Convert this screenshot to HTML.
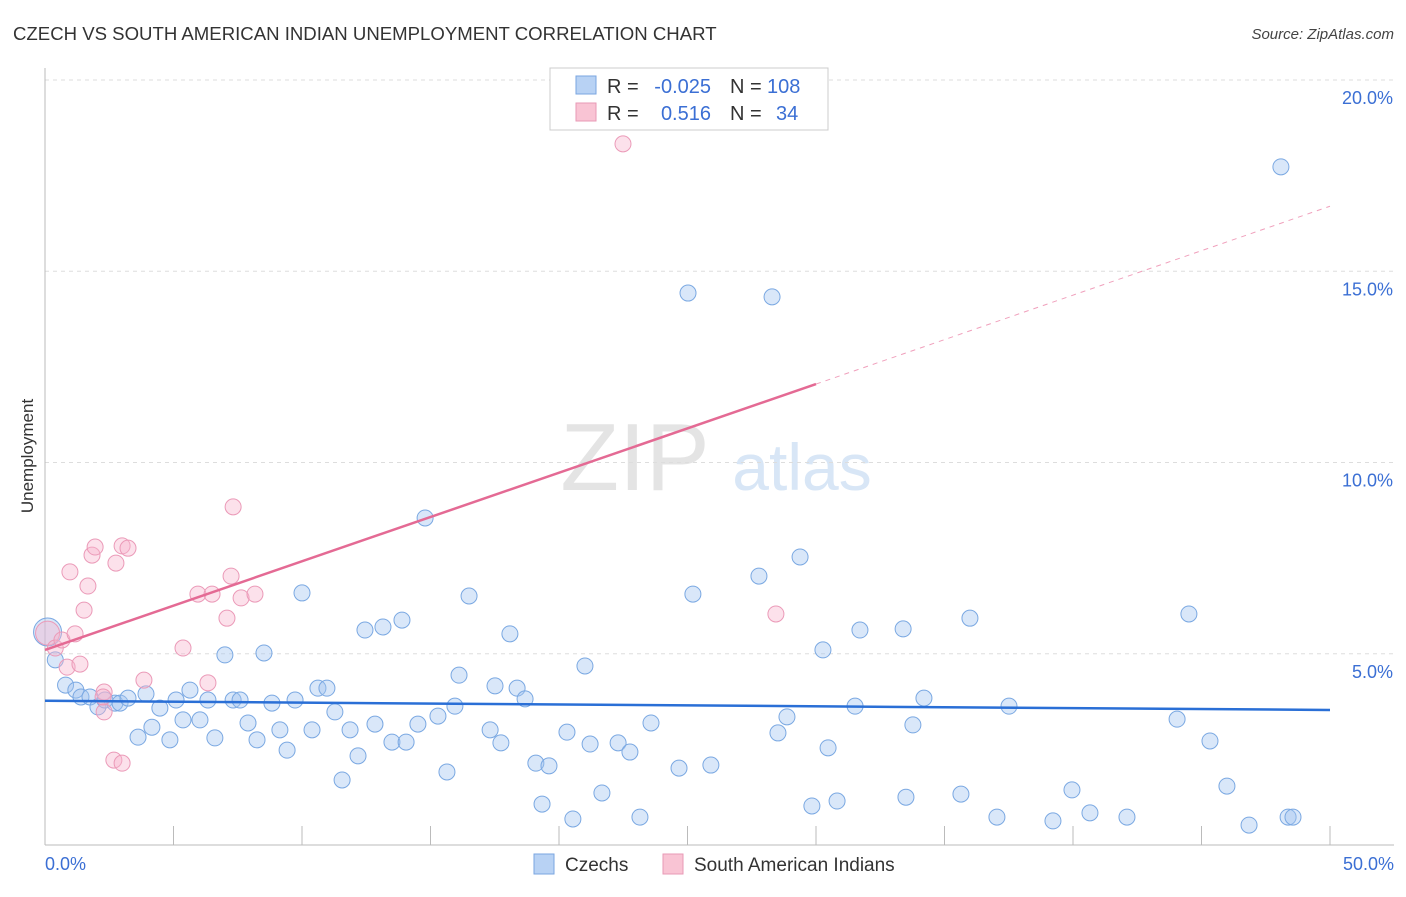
<!DOCTYPE html>
<html><head><meta charset="utf-8"><style>
body{margin:0;background:#fff;font-family:"Liberation Sans",sans-serif;}
svg text{font-family:"Liberation Sans",sans-serif;}
</style></head><body>
<svg id="chart" width="1406" height="892" viewBox="0 0 1406 892">
<text x="13" y="40" font-size="18.6" fill="#333">CZECH VS SOUTH AMERICAN INDIAN UNEMPLOYMENT CORRELATION CHART</text>
<text x="1394" y="39" font-size="15" fill="#444" text-anchor="end" font-style="italic">Source: ZipAtlas.com</text>
<text transform="translate(33,456) rotate(-90)" font-size="17" fill="#333" text-anchor="middle">Unemployment</text>
<g>
<text x="635" y="490" font-size="96" fill="#e4e4e4" font-family="Liberation Serif" text-anchor="middle">ZIP</text>
<text x="802" y="490" font-size="66" fill="#d8e6f6" text-anchor="middle">atlas</text>
</g>
<g id="grid"></g><g id="axes"></g><g id="marks"></g>
<g>
<rect x="550" y="68" width="278" height="62" fill="#fff" stroke="#ccc"/>
<rect x="576" y="76" width="20" height="18" fill="#b8d2f4" stroke="#7aa6e0"/>
<rect x="576" y="103" width="20" height="18" fill="#f9c4d4" stroke="#e89ab6"/>
<text x="607" y="93" font-size="20" fill="#333">R =</text>
<text x="711" y="93" font-size="20" fill="#3b6fd4" text-anchor="end">-0.025</text>
<text x="730" y="93" font-size="20" fill="#333">N =</text>
<text x="767" y="93" font-size="20" fill="#3b6fd4">108</text>
<text x="607" y="120" font-size="20" fill="#333">R =</text>
<text x="711" y="120" font-size="20" fill="#3b6fd4" text-anchor="end">0.516</text>
<text x="730" y="120" font-size="20" fill="#333">N =</text>
<text x="776" y="120" font-size="20" fill="#3b6fd4">34</text>
</g>
<g>
<rect x="534" y="854" width="20" height="20" fill="#b8d2f4" stroke="#7aa6e0"/>
<text x="565" y="871" font-size="19" fill="#333">Czechs</text>
<rect x="663" y="854" width="20" height="20" fill="#f9c4d4" stroke="#e89ab6"/>
<text x="694" y="871" font-size="19" fill="#333">South American Indians</text>
</g>
</svg>
<script>
const yTicks=[5,10,15,20];
const yTickLabels=["5.0%","10.0%","15.0%","20.0%"];
const czechX=[0.1,0.4,0.8,1.2,1.4,1.75,2.06,2.33,2.72,2.92,3.23,3.62,3.93,4.16,4.47,4.86,5.1,5.37,5.64,6.03,6.34,6.61,7.0,7.32,7.59,7.9,8.25,8.52,8.83,9.14,9.42,9.73,10.0,10.39,10.62,10.97,11.28,11.56,11.87,12.18,12.45,12.84,13.15,13.5,13.89,14.05,14.51,14.79,15.29,15.64,15.95,16.11,16.5,17.32,17.51,17.74,18.09,18.37,18.68,19.1,19.34,19.61,20.31,20.54,21.01,21.21,21.67,22.3,22.76,23.15,23.58,24.67,25.02,25.21,25.91,27.78,28.29,28.52,28.87,29.38,29.84,30.27,30.47,30.82,31.52,31.71,33.39,33.5,33.77,34.2,35.64,35.99,37.04,37.51,39.22,39.96,40.66,42.1,44.05,44.51,45.33,45.99,46.85,48.09,48.37,48.56];
const czechY=[5.57,4.84,4.18,4.05,3.87,3.87,3.61,3.79,3.71,3.71,3.84,2.82,3.95,3.08,3.58,2.75,3.79,3.27,4.05,3.27,3.79,2.8,4.97,3.79,3.79,3.19,2.75,5.02,3.71,3.01,2.48,3.79,6.59,3.01,4.1,4.1,3.48,1.7,3.01,2.33,5.62,3.16,5.7,2.69,5.88,2.69,3.16,8.55,3.37,1.91,3.63,4.44,6.51,3.01,4.16,2.67,5.52,4.1,3.82,2.14,1.07,2.07,2.95,0.68,4.68,2.64,1.36,2.67,2.43,0.73,3.19,2.01,14.43,6.56,2.09,7.03,14.33,2.93,3.35,7.53,1.02,5.1,2.54,1.15,3.63,5.62,5.65,1.25,3.14,3.84,1.33,5.93,0.73,3.63,0.63,1.44,0.84,0.73,3.29,6.04,2.72,1.54,0.52,17.73,0.73,0.73];
const sainX=[0.1,0.4,0.66,0.86,0.97,1.17,1.36,1.52,1.67,1.83,1.95,2.3,2.3,2.26,2.68,2.76,3.0,3.0,3.23,3.85,5.37,5.95,6.34,6.5,7.08,7.24,7.32,7.63,8.17,22.49,28.44];
const sainY=[5.54,5.15,5.36,4.65,7.14,5.52,4.73,6.14,6.77,7.58,7.79,4.0,3.48,3.87,2.22,7.37,7.82,2.14,7.76,4.31,5.15,6.56,4.24,6.56,5.93,7.03,8.84,6.46,6.56,18.33,6.04];
const czechTrend=[3.77,3.53];
const sainTrend=[5.1,12.05,16.7];
const X0=45,X1=1330,Y0=845,pxPerY=38.25;
const sx=v=>X0+(X1-X0)*v/50, sy=v=>Y0-v*pxPerY;
const NS="http://www.w3.org/2000/svg";
function mk(parent,tag,attrs){const e=document.createElementNS(NS,tag);for(const k in attrs)e.setAttribute(k,attrs[k]);parent.appendChild(e);return e;}
const grid=document.getElementById('grid'),axes=document.getElementById('axes'),marks=document.getElementById('marks');
yTicks.forEach((t,i)=>{
 const l=mk(grid,'line',{x1:X0,x2:1394,y1:sy(t),y2:sy(t),stroke:'#ddd','stroke-dasharray':'4,4'});
 
 
 const tx=mk(axes,'text',{x:1393,y:sy(t)+24,'font-size':18,fill:'#3b6fd4','text-anchor':'end'});
 tx.textContent=yTickLabels[i];
 
 
});
let a=mk(axes,'line',{x1:X0,x2:X0,y1:68,y2:Y0,stroke:'#bbb'});


a=mk(axes,'line',{x1:X0,x2:X1+64,y1:Y0,y2:Y0,stroke:'#bbb'});


for(let i=0;i<=10;i++){const t=mk(axes,'line',{x1:sx(i*5),x2:sx(i*5),y1:826,y2:Y0,stroke:'#bbb'});
 
 }
let xl=mk(axes,'text',{x:45,y:870,'font-size':18,fill:'#3b6fd4'});xl.textContent='0.0%';


xl=mk(axes,'text',{x:1394,y:870,'font-size':18,fill:'#3b6fd4','text-anchor':'end'});xl.textContent='50.0%';


czechX.forEach((x,i)=>{const c=mk(marks,'circle',{cx:sx(x),cy:sy(czechY[i]),r:i==0?14:8,fill:'rgba(160,196,240,0.4)',stroke:'#7aa8e2','stroke-width':1});
 
 });
sainX.forEach((x,i)=>{const c=mk(marks,'circle',{cx:sx(x),cy:sy(sainY[i]),r:i==0?12:8,fill:'rgba(248,180,204,0.4)',stroke:'#eb9ab8','stroke-width':1});
 
 });
let tl=mk(marks,'line',{x1:sx(0),y1:sy(czechTrend[0]),x2:sx(50),y2:sy(czechTrend[1]),stroke:'#2a6fd6','stroke-width':2.5});


tl=mk(marks,'line',{x1:sx(0),y1:sy(sainTrend[0]),x2:sx(30),y2:sy(sainTrend[1]),stroke:'#e46a94','stroke-width':2.5});


tl=mk(marks,'line',{x1:sx(30),y1:sy(sainTrend[1]),x2:sx(50),y2:sy(sainTrend[2]),stroke:'#f0a0bc','stroke-width':1,'stroke-dasharray':'5,5'});


</script>
</body></html>
